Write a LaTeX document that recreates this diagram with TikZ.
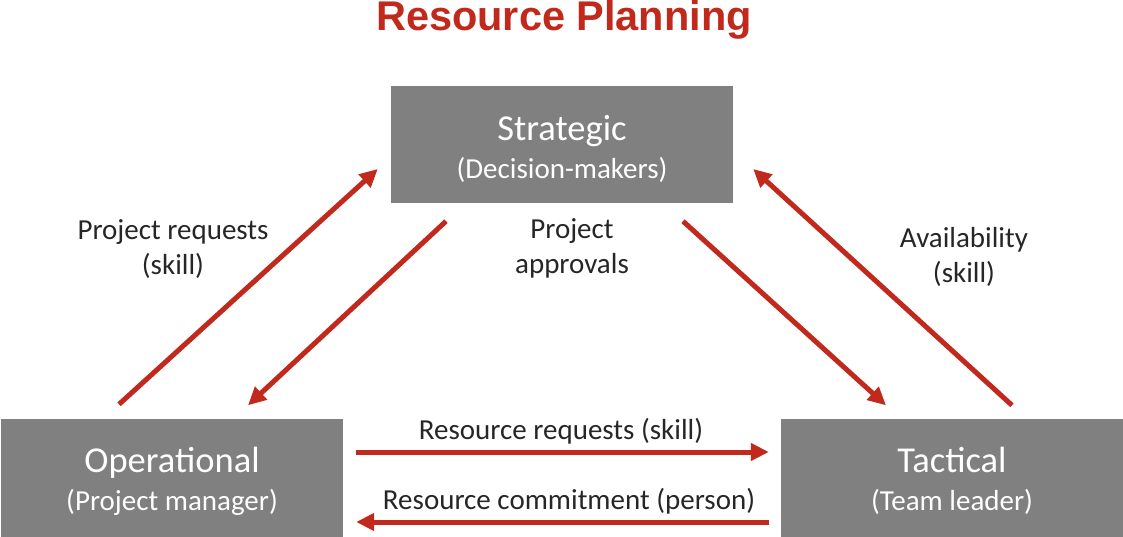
\documentclass[tikz,border=0pt]{standalone}
\usepackage{fontspec}
\setmainfont{Carlito}
\newfontfamily\titlefont{Liberation Sans}
\usetikzlibrary{positioning, arrows.meta, calc}
\definecolor{planred}{RGB}{192,41,28}
\definecolor{boxgray}{RGB}{128,128,128}
\definecolor{labelgray}{RGB}{38,38,38}
\tikzset{
    level/.style={fill=boxgray, minimum width=342bp, minimum height=117bp,
        inner sep=0},
    leveltext/.style={text=white, align=center, inner sep=0,
        font=\fontsize{29bp}{38bp}\selectfont},
    flow/.style={draw=planred, line width=5bp,
        -{Triangle[length=18bp, width=17bp]}},
    lbl/.style={text=labelgray, align=center, inner sep=0,
        font=\fontsize{29bp}{35bp}\selectfont}
}
\def\big#1{{\fontsize{36.5bp}{38bp}\selectfont #1}}
\begin{document}
\begin{tikzpicture}[x=1bp, y=-1bp]
    \useasboundingbox (0,0) rectangle (1123,537);

    % title
    \node[text=planred, font=\titlefont\bfseries\fontsize{41.5bp}{44bp}\selectfont]
        (title) at (564,20) {Resource Planning};

    % the three levels
    \node[level] (st) at (562,144.5) {};
    \node[level] (op) at (172,478) {};
    \node[level] (tc) at (952,478) {};
    \node[leveltext] (st-txt) at ($(st)+(0,4)$) {\big{Strategic}\\(Decision-makers)};
    \node[leveltext] (op-txt) at ($(op)+(0,3)$) {\big{Operational}\\(Project manager)};
    \node[leveltext] (tc-txt) at ($(tc)+(0,3)$) {\big{Tactical}\\(Team leader)};

    % diagonal flows
    \draw[flow] ($(op.north)+(-53,-15)$) -- ($(st.west)+(-13,24.5)$);
    \draw[flow] ($(st.south)+(-116,18)$) -- ($(op.north)+(76,-14)$);
    \draw[flow] ($(st.south)+(121,18)$) -- ($(tc.north)+(-66,-14)$);
    \draw[flow] ($(tc.north)+(60,-14)$) -- ($(st.east)+(20,24.5)$);

    % horizontal flows
    \draw[flow] ($(op.east)+(13,-26)$) -- ($(tc.west)+(-12,-26)$);
    \draw[flow] ($(tc.west)+(-12,44)$) -- ($(op.east)+(13,44)$);

    % labels
    \node[lbl] (req)   at (173,249) {Project requests\\(skill)};
    \node[lbl] (appr)  at (572,248) {Project\\approvals};
    \node[lbl] (avail) at (964,257) {Availability\\(skill)};
    \node[lbl] (rreq)  at (561,431) {Resource requests (skill)};
    \node[lbl] (rcom)  at (569,501) {Resource commitment (person)};
\end{tikzpicture}
\end{document}
